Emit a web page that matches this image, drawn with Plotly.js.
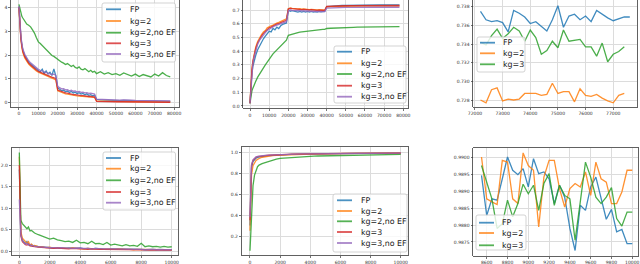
<!DOCTYPE html>
<html><head><meta charset="utf-8">
<script src="https://cdn.plot.ly/plotly-3.0.1.min.js"></script>
<style>html,body{margin:0;padding:0;background:#fff}#chart{width:640px;height:264px}</style>
</head><body><div id="chart"></div>
<script>
// ---------------- DATA ----------------
const names5 = ['FP', 'kg=2', 'kg=2,no EF', 'kg=3', 'kg=3,no EF'];
const names3 = ['FP', 'kg=2', 'kg=3'];

// top row, full training (iterations)
const xTrain = [0,500,1000,1500,2000,3000,4000,5000,6000,7000,8000,9000,10000,11000,12000,13000,14000,15000,16000,17000,18000,19000,20000,21000,22000,23000,24000,25000,26000,27000,28000,29000,30000,31000,32000,33000,34000,35000,36000,37000,38000,39000,40000,42000,44000,46000,48000,50000,52000,54000,56000,58000,60000,62000,64000,66000,68000,70000,72000,74000,76000,78000];

const lossFP = [4.02,3.25,2.75,2.42,2.2,1.98,1.82,1.7,1.62,1.55,1.45,1.42,1.35,1.3,1.4,1.22,1.33,1.2,1.28,1.14,1.42,1.12,0.62,0.56,0.5,0.53,0.46,0.49,0.43,0.47,0.41,0.44,0.38,0.42,0.36,0.39,0.33,0.37,0.31,0.34,0.29,0.31,0.14,0.12,0.11,0.12,0.1,0.1,0.09,0.1,0.08,0.09,0.08,0.08,0.07,0.08,0.07,0.07,0.06,0.07,0.06,0.06];
const lossK2 = [3.95,3.15,2.65,2.32,2.1,1.88,1.74,1.62,1.54,1.46,1.4,1.33,1.28,1.24,1.2,1.16,1.13,1.1,1.06,1.03,1.0,0.96,0.5,0.46,0.42,0.4,0.37,0.36,0.34,0.33,0.31,0.31,0.29,0.28,0.27,0.27,0.25,0.25,0.24,0.23,0.22,0.22,0.08,0.07,0.07,0.06,0.06,0.05,0.05,0.05,0.04,0.05,0.04,0.04,0.04,0.04,0.03,0.04,0.03,0.03,0.03,0.03];
const lossK2n = [4.12,3.9,3.75,3.62,3.55,3.42,3.3,3.25,3.18,3.05,2.92,2.72,2.55,2.48,2.4,2.3,2.22,2.12,2.06,1.98,1.94,1.88,1.8,1.74,1.7,1.66,1.6,1.64,1.56,1.52,1.57,1.48,1.44,1.5,1.41,1.38,1.43,1.35,1.3,1.36,1.28,1.32,1.22,1.3,1.2,1.26,1.18,1.22,1.15,1.25,1.17,1.12,1.2,1.1,1.18,1.14,1.08,1.2,1.12,1.26,1.14,1.08];
const lossK3 = [4.0,3.2,2.7,2.38,2.15,1.93,1.78,1.66,1.58,1.5,1.43,1.37,1.31,1.27,1.24,1.19,1.17,1.13,1.1,1.07,1.05,1.02,0.53,0.5,0.45,0.44,0.41,0.4,0.37,0.37,0.34,0.34,0.32,0.31,0.3,0.3,0.28,0.28,0.26,0.26,0.25,0.24,0.06,0.05,0.05,0.05,0.04,0.04,0.04,0.04,0.03,0.04,0.03,0.03,0.03,0.03,0.03,0.03,0.02,0.03,0.02,0.02];
const lossK3n = [4.05,3.3,2.8,2.48,2.25,2.03,1.88,1.76,1.67,1.6,1.52,1.46,1.4,1.36,1.33,1.28,1.27,1.23,1.22,1.18,1.2,1.15,0.68,0.62,0.58,0.59,0.54,0.55,0.5,0.52,0.48,0.49,0.45,0.47,0.43,0.44,0.41,0.42,0.39,0.4,0.37,0.36,0.15,0.14,0.13,0.14,0.12,0.12,0.11,0.12,0.1,0.11,0.1,0.1,0.09,0.1,0.09,0.09,0.08,0.09,0.08,0.08];

const accFP = [0.02,0.15,0.24,0.29,0.32,0.37,0.41,0.44,0.47,0.49,0.51,0.53,0.545,0.54,0.565,0.555,0.575,0.565,0.585,0.595,0.6,0.605,0.7,0.69,0.695,0.69,0.69,0.685,0.69,0.685,0.69,0.685,0.69,0.685,0.69,0.685,0.688,0.685,0.69,0.686,0.688,0.69,0.725,0.728,0.73,0.732,0.733,0.733,0.734,0.735,0.735,0.736,0.736,0.736,0.737,0.737,0.737,0.737,0.737,0.737,0.737,0.737];
const accK2 = [0.02,0.17,0.27,0.33,0.37,0.43,0.47,0.5,0.52,0.54,0.55,0.57,0.58,0.585,0.59,0.6,0.605,0.61,0.615,0.62,0.625,0.635,0.71,0.715,0.712,0.71,0.712,0.708,0.71,0.706,0.708,0.705,0.706,0.703,0.705,0.702,0.703,0.7,0.702,0.699,0.7,0.699,0.722,0.724,0.725,0.726,0.726,0.727,0.727,0.727,0.728,0.728,0.728,0.728,0.728,0.729,0.728,0.728,0.728,0.729,0.728,0.728];
const accK2n = [0.02,0.08,0.11,0.13,0.15,0.18,0.21,0.235,0.26,0.28,0.3,0.32,0.345,0.36,0.38,0.395,0.41,0.425,0.44,0.45,0.465,0.48,0.515,0.52,0.525,0.528,0.532,0.535,0.538,0.54,0.543,0.545,0.547,0.549,0.55,0.552,0.553,0.555,0.556,0.557,0.558,0.559,0.565,0.567,0.569,0.57,0.571,0.572,0.573,0.574,0.575,0.575,0.576,0.576,0.577,0.577,0.578,0.578,0.578,0.579,0.579,0.579];
const accK3 = [0.02,0.16,0.26,0.32,0.36,0.42,0.46,0.49,0.51,0.53,0.545,0.56,0.57,0.575,0.585,0.59,0.598,0.6,0.608,0.612,0.618,0.625,0.708,0.712,0.71,0.708,0.709,0.705,0.707,0.703,0.705,0.702,0.703,0.7,0.702,0.699,0.7,0.698,0.699,0.697,0.698,0.697,0.726,0.728,0.729,0.73,0.731,0.731,0.732,0.732,0.733,0.733,0.733,0.734,0.734,0.734,0.734,0.734,0.734,0.734,0.734,0.733];
const accK3n = [0.02,0.15,0.25,0.31,0.35,0.41,0.45,0.48,0.5,0.52,0.535,0.55,0.56,0.57,0.578,0.585,0.59,0.595,0.6,0.605,0.61,0.615,0.695,0.7,0.698,0.697,0.698,0.695,0.696,0.694,0.695,0.692,0.693,0.691,0.692,0.69,0.691,0.689,0.69,0.688,0.689,0.688,0.714,0.716,0.717,0.718,0.718,0.719,0.719,0.72,0.72,0.72,0.72,0.721,0.72,0.721,0.72,0.721,0.72,0.721,0.72,0.72];

// top right, close-up of the final accuracy
const xTail = [72200,72400,72600,72800,73000,73200,73400,73600,73800,74000,74200,74400,74600,74800,75000,75200,75400,75600,75800,76000,76200,76400,76600,76800,77000,77200,77400,77600];
const tailFP = [0.7375,0.7366,0.7364,0.7365,0.7363,0.7353,0.7376,0.7373,0.7369,0.7362,0.7364,0.7359,0.7354,0.7366,0.7381,0.7358,0.737,0.7372,0.7366,0.737,0.7364,0.7376,0.7372,0.7368,0.7365,0.7367,0.7369,0.7369];
const tailK2 = [0.728,0.7277,0.7291,0.7293,0.7279,0.7281,0.728,0.7281,0.7287,0.7287,0.7287,0.7285,0.7286,0.7298,0.7287,0.7289,0.7289,0.7278,0.7292,0.7285,0.7284,0.7286,0.7282,0.7279,0.7277,0.7285,0.7287];
const tailK3 = [0.7342,0.7339,0.7349,0.7356,0.7346,0.7351,0.7358,0.7354,0.7343,0.7355,0.7347,0.7329,0.7333,0.7343,0.7336,0.7355,0.7343,0.7344,0.7345,0.7337,0.7337,0.7327,0.7341,0.7321,0.7329,0.7332,0.7337];

// bottom row, second task (iterations)
const xTask = [0,50,100,200,300,400,500,600,700,800,900,1000,1250,1500,1750,2000,2250,2500,2750,3000,3250,3500,3750,4000,4250,4500,4750,5000,5250,5500,5750,6000,6250,6500,6750,7000,7250,7500,7750,8000,8250,8500,8750,9000,9250,9500,9750,10000];

const loss2FP = [1.9,0.6,0.4,0.25,0.2,0.17,0.22,0.15,0.13,0.15,0.11,0.12,0.1,0.09,0.08,0.08,0.07,0.08,0.07,0.06,0.07,0.06,0.06,0.07,0.05,0.06,0.05,0.06,0.05,0.05,0.04,0.05,0.05,0.04,0.05,0.04,0.04,0.05,0.04,0.04,0.03,0.04,0.04,0.03,0.04,0.03,0.03,0.03];
const loss2K2 = [2.2,0.7,0.45,0.3,0.26,0.2,0.18,0.22,0.14,0.16,0.12,0.13,0.1,0.1,0.08,0.09,0.07,0.08,0.07,0.07,0.06,0.07,0.06,0.06,0.05,0.06,0.05,0.05,0.05,0.04,0.05,0.04,0.04,0.05,0.04,0.04,0.04,0.03,0.04,0.04,0.03,0.04,0.03,0.03,0.03,0.03,0.03,0.02];
const loss2K2n = [2.3,1.1,0.72,0.64,0.6,0.55,0.52,0.56,0.47,0.48,0.44,0.42,0.38,0.35,0.32,0.28,0.3,0.26,0.24,0.22,0.23,0.2,0.25,0.19,0.2,0.17,0.23,0.17,0.18,0.15,0.2,0.14,0.16,0.14,0.12,0.15,0.12,0.13,0.11,0.18,0.1,0.12,0.1,0.11,0.09,0.11,0.09,0.1];
const loss2K3 = [2.0,0.55,0.35,0.22,0.18,0.15,0.14,0.16,0.12,0.11,0.1,0.1,0.09,0.08,0.07,0.07,0.06,0.07,0.06,0.06,0.05,0.06,0.05,0.05,0.05,0.04,0.05,0.04,0.04,0.04,0.04,0.04,0.03,0.04,0.03,0.03,0.04,0.03,0.03,0.03,0.03,0.02,0.03,0.03,0.02,0.03,0.02,0.02];
const loss2K3n = [1.2,0.5,0.38,0.24,0.2,0.16,0.18,0.14,0.15,0.12,0.13,0.11,0.1,0.09,0.09,0.08,0.08,0.07,0.08,0.07,0.07,0.06,0.07,0.06,0.06,0.06,0.05,0.06,0.05,0.05,0.05,0.05,0.04,0.05,0.04,0.04,0.05,0.04,0.04,0.04,0.03,0.04,0.04,0.03,0.03,0.04,0.03,0.03];

const acc2FP = [0.3,0.75,0.85,0.91,0.93,0.94,0.948,0.952,0.955,0.958,0.96,0.962,0.966,0.969,0.971,0.973,0.975,0.976,0.977,0.978,0.979,0.98,0.981,0.981,0.982,0.983,0.983,0.984,0.984,0.985,0.985,0.985,0.986,0.986,0.986,0.987,0.987,0.987,0.988,0.988,0.988,0.988,0.989,0.989,0.989,0.989,0.989,0.988];
const acc2K2 = [0.25,0.6,0.78,0.87,0.9,0.92,0.93,0.94,0.945,0.95,0.953,0.956,0.962,0.966,0.969,0.971,0.973,0.975,0.976,0.977,0.978,0.979,0.98,0.981,0.981,0.982,0.983,0.983,0.984,0.984,0.985,0.985,0.986,0.986,0.986,0.987,0.987,0.987,0.988,0.988,0.988,0.989,0.989,0.989,0.989,0.989,0.99,0.99];
const acc2K2n = [0.06,0.2,0.42,0.68,0.78,0.83,0.86,0.875,0.885,0.89,0.895,0.9,0.915,0.925,0.933,0.94,0.943,0.946,0.949,0.952,0.954,0.956,0.958,0.96,0.961,0.962,0.963,0.965,0.966,0.966,0.967,0.968,0.969,0.969,0.97,0.971,0.971,0.972,0.972,0.973,0.973,0.974,0.974,0.975,0.975,0.976,0.976,0.977];
const acc2K3 = [0.35,0.78,0.87,0.92,0.94,0.95,0.955,0.958,0.96,0.962,0.964,0.966,0.969,0.972,0.974,0.975,0.977,0.978,0.979,0.98,0.981,0.981,0.982,0.983,0.983,0.984,0.984,0.985,0.985,0.986,0.986,0.986,0.987,0.987,0.987,0.988,0.988,0.988,0.988,0.989,0.989,0.989,0.989,0.989,0.99,0.99,0.99,0.99];
const acc2K3n = [0.38,0.8,0.88,0.925,0.945,0.953,0.958,0.961,0.963,0.965,0.967,0.968,0.971,0.973,0.975,0.976,0.978,0.979,0.98,0.981,0.981,0.982,0.983,0.983,0.984,0.984,0.985,0.985,0.986,0.986,0.986,0.987,0.987,0.987,0.988,0.988,0.988,0.988,0.989,0.989,0.989,0.989,0.99,0.99,0.99,0.99,0.99,0.99];

// bottom right, close-up of the final accuracy
const xTail2 = [8550,8600,8650,8700,8750,8800,8850,8900,8950,9000,9050,9100,9150,9200,9250,9300,9350,9400,9450,9500,9550,9600,9650,9700,9750,9800,9850,9900,9950,10000];
const tail2FP = [0.98946,0.98828,0.98877,0.98873,0.98936,0.99,0.98961,0.98948,0.98966,0.98912,0.98995,0.98951,0.98956,0.98936,0.98863,0.98917,0.98882,0.9879,0.98725,0.98858,0.98843,0.98912,0.98941,0.98877,0.98817,0.98846,0.9878,0.98787,0.98745,0.98745];
const tail2K2 = [0.99,0.98877,0.98868,0.9886,0.9899,0.98985,0.98877,0.98863,0.99012,0.98975,0.98961,0.98794,0.98941,0.9899,0.9899,0.98907,0.98853,0.98907,0.98922,0.98912,0.98956,0.98887,0.98985,0.98936,0.98926,0.98863,0.98863,0.98897,0.98961,0.98961];
const tail2K3 = [0.98975,0.98926,0.98877,0.9879,0.98804,0.98873,0.98824,0.98863,0.9892,0.98892,0.98917,0.98843,0.98922,0.98951,0.98858,0.98917,0.98887,0.98877,0.98755,0.98868,0.98985,0.98941,0.98882,0.98863,0.98882,0.9891,0.98819,0.98797,0.98838,0.98838];

// ---------------- STYLE / LAYOUT ----------------
const W = 640, H = 264;
const C = {blue:'#1f77b4', orange:'#ff7f0e', green:'#2ca02c', red:'#d62728', purple:'#9467bd'};
const col5 = [C.blue, C.orange, C.green, C.red, C.purple];
const col3 = [C.blue, C.orange, C.green];
const FONT = 'DejaVu Sans, Liberation Sans, sans-serif';

const panels = [
  {xd:[11,179],     xr:[-4100,82500],  yd:[0,107],     yr:[-0.18,4.306],      xt:10000, yt:1,      yf:'d',   series:[[xTrain,lossFP],[xTrain,lossK2],[xTrain,lossK2n],[xTrain,lossK3],[xTrain,lossK3n]], cols:col5, names:names5},
  {xd:[243.3,408.3],xr:[-3500,82600],  yd:[0,108.3],   yr:[-0.017,0.773],     xt:10000, yt:0.1,    yf:'.1f', series:[[xTrain,accFP],[xTrain,accK2],[xTrain,accK2n],[xTrain,accK3],[xTrain,accK3n]], cols:col5, names:names5},
  {xd:[473.3,637],  xr:[71940,77860],  yd:[0,107],     yr:[0.72725,0.73872],  xt:1000,  yt:0.002,  yf:'.3f', series:[[xTail,tailFP],[xTail,tailK2],[xTail,tailK3]], cols:col3, names:names3},
  {xd:[11.7,178],   xr:[-500,10413],   yd:[148.3,255.3],yr:[-0.1,2.397],      xt:2000,  yt:0.5,    yf:'.1f', series:[[xTask,loss2FP],[xTask,loss2K2],[xTask,loss2K2n],[xTask,loss2K3],[xTask,loss2K3n]], cols:col5, names:names5},
  {xd:[241.7,408.3],xr:[-550,10500],   yd:[147,255.3], yr:[0.0165,1.0476],    xt:2000,  yt:0.2,    yf:'.1f', series:[[xTask,acc2FP],[xTask,acc2K2],[xTask,acc2K2n],[xTask,acc2K3],[xTask,acc2K3n]], cols:col5, names:names5},
  {xd:[473.3,638.3],xr:[8471,10058],   yd:[148,256],   yr:[0.987088,0.990265],xt:200,   yt:0.0005, yf:'.4f', series:[[xTail2,tail2FP],[xTail2,tail2K2],[xTail2,tail2K3]], cols:col3, names:names3}
];

const legends = [
  {box:[102,3,175.5,62],   hx:[106,121], tx:127.5, ys:[9.3,21,32.7,43.3,54]},
  {box:[334,46,406,103],   hx:[337,352], tx:358.5, ys:[51.7,63.3,74,85.7,96.7]},
  {box:[477,37,525,72],    hx:[480,495], tx:500.5, ys:[42.7,53.3,64.3]},
  {box:[103,152,175.5,210],hx:[106,121], tx:127.5, ys:[158,168.7,180.3,192,202.7]},
  {box:[333,194,407,252],  hx:[337,352], tx:358.5, ys:[200.3,211,221.3,232,243]},
  {box:[476,215,526,250],  hx:[479,494], tx:499.5, ys:[222.7,233,245.3]}
];

const common = {
  showgrid:true, gridcolor:'#dcdcdc', gridwidth:1,
  showline:true, linecolor:'#3a3a3a', linewidth:0.8, mirror:true,
  ticks:'outside', ticklen:2, tickwidth:0.7, tickcolor:'#3a3a3a',
  tickfont:{family:FONT, size:4.5, color:'#333'},
  zeroline:false, fixedrange:true, tickmode:'linear', tick0:0
};

const traces = [];
const layout = {
  width:W, height:H, margin:{l:0,r:0,t:0,b:0},
  paper_bgcolor:'#fff', plot_bgcolor:'#fff', showlegend:false,
  font:{family:FONT}, shapes:[], annotations:[]
};

const px = v => v / W, py = v => 1 - v / H;

panels.forEach((p, i) => {
  const n = i === 0 ? '' : String(i + 1);
  layout['xaxis' + n] = Object.assign({}, common, {
    domain:[px(p.xd[0]), px(p.xd[1])], range:p.xr, anchor:'y' + n, dtick:p.xt, tickformat:'d'
  });
  layout['yaxis' + n] = Object.assign({}, common, {
    domain:[py(p.yd[1]), py(p.yd[0])], range:p.yr, anchor:'x' + n, dtick:p.yt, tickformat:p.yf
  });
  p.series.forEach((s, k) => {
    traces.push({
      type:'scatter', mode:'lines', x:s[0], y:s[1], name:p.names[k],
      xaxis:'x' + n, yaxis:'y' + n, opacity:0.85,
      line:{color:p.cols[k], width:1.3}, hoverinfo:'skip'
    });
  });
  // legend (matplotlib-style box)
  const L = legends[i];
  const [x0, y0, x1, y1] = L.box, r = 2;
  const path = `M ${px(x0 + r)} ${py(y0)} L ${px(x1 - r)} ${py(y0)} Q ${px(x1)} ${py(y0)} ${px(x1)} ${py(y0 + r)} ` +
               `L ${px(x1)} ${py(y1 - r)} Q ${px(x1)} ${py(y1)} ${px(x1 - r)} ${py(y1)} ` +
               `L ${px(x0 + r)} ${py(y1)} Q ${px(x0)} ${py(y1)} ${px(x0)} ${py(y1 - r)} ` +
               `L ${px(x0)} ${py(y0 + r)} Q ${px(x0)} ${py(y0)} ${px(x0 + r)} ${py(y0)} Z`;
  layout.shapes.push({type:'path', xref:'paper', yref:'paper', path:path,
    fillcolor:'rgba(255,255,255,0.8)', line:{color:'#c8c8c8', width:0.8}});
  p.names.forEach((nm, k) => {
    layout.shapes.push({type:'line', xref:'paper', yref:'paper',
      x0:px(L.hx[0]), x1:px(L.hx[1]), y0:py(L.ys[k]), y1:py(L.ys[k]),
      opacity:0.8, line:{color:p.cols[k], width:1.8}});
    layout.annotations.push({xref:'paper', yref:'paper', x:px(L.tx), y:py(L.ys[k]),
      xanchor:'left', yanchor:'middle', showarrow:false, text:nm,
      font:{family:FONT, size:7.9, color:'#1a1a1a'}});
  });
});

Plotly.newPlot('chart', traces, layout, {staticPlot:true, displayModeBar:false});
</script></body></html>
